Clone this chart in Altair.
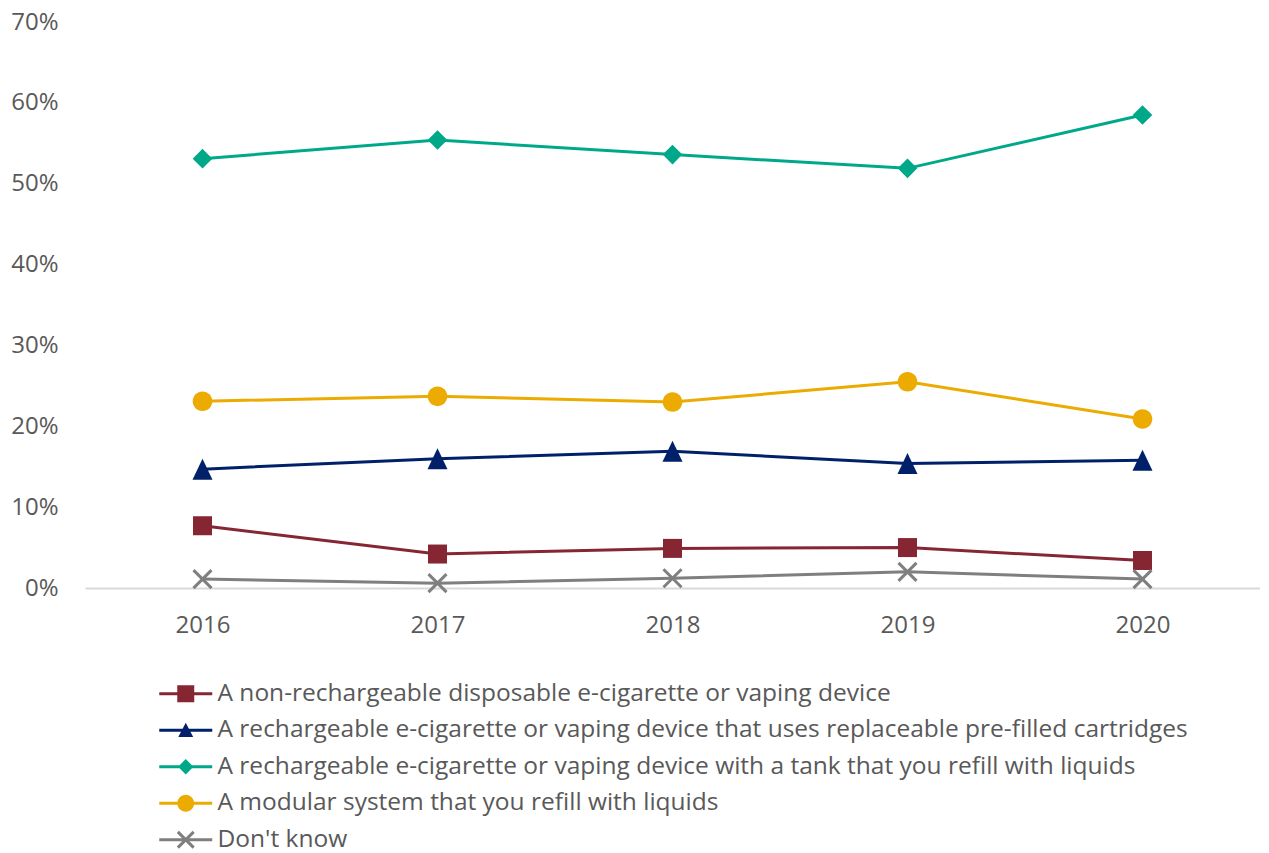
import altair as alt
import pandas as pd

years = ["2016", "2017", "2018", "2019", "2020"]
series = [
    "A non-rechargeable disposable e-cigarette or vaping device",
    "A rechargeable e-cigarette or vaping device that uses replaceable pre-filled cartridges",
    "A rechargeable e-cigarette or vaping device with a tank that you refill with liquids",
    "A modular system that you refill with liquids",
    "Don't know",
]
disposable = [0.077, 0.042, 0.049, 0.050, 0.034]
cartridges = [0.147, 0.160, 0.169, 0.154, 0.158]
tank = [0.531, 0.554, 0.536, 0.519, 0.585]
modular = [0.231, 0.237, 0.230, 0.255, 0.209]
dont_know = [0.011, 0.006, 0.012, 0.020, 0.011]
colors = ["#862633", "#002169", "#00A88A", "#EBAB00", "#7F7F7F"]

all_values = [disposable, cartridges, tank, modular, dont_know]
rows = []
for s, vals in zip(series, all_values):
    for y, v in zip(years, vals):
        rows.append({"year": y, "value": v, "series": s, "series_leg": s})
df = pd.DataFrame(rows)

# chart marker shapes (scaled by sqrt(size)/2)
sq = "M-0.95,-0.95H0.95V0.95H-0.95Z"
tri = "M0,-1.05L1,1.05L-1,1.05Z"
dia = "M0,-0.98L0.98,0L0,0.98L-0.98,0Z"
circ = "M-0.98,0A0.98,0.98 0 1 1 0.98,0A0.98,0.98 0 1 1 -0.98,0Z"
xx = ("M-0.794,-1.006L1.006,0.794L0.794,1.006L-1.006,-0.794Z"
      "M1.006,-0.794L-0.794,1.006L-1.006,0.794L0.794,-1.006Z")
chart_shapes = [sq, tri, dia, circ, xx]

# legend shapes: line + marker (scale 12 px per unit)
ln = "M-2.208,-0.125H2.208V0.125H-2.208Z"
leg_shapes = [
    ln + "M-0.708,-0.708H0.708V0.708H-0.708Z",
    ln + "M0,-0.62L0.62,0.56L-0.62,0.56Z",
    ln + "M0,-0.64L0.64,0L0,0.64L-0.64,0Z",
    ln + "M-0.7,0A0.7,0.7 0 1 1 0.7,0A0.7,0.7 0 1 1 -0.7,0Z",
    ln + "M-0.572,-0.748L0.748,0.572L0.572,0.748L-0.748,-0.572Z"
         "M0.748,-0.572L-0.572,0.748L-0.748,0.572L0.572,-0.748Z",
]

FONT = "Open Sans"
TXT = "#595959"

x_enc = alt.X(
    "year:O",
    sort=years,
    scale=alt.Scale(type="point", padding=0.5),
    axis=alt.Axis(
        title=None, labelAngle=0, domain=True, domainColor="#D9D9D9",
        domainWidth=2, ticks=False, labelFontSize=24, labelColor=TXT,
        labelFont=FONT, labelPadding=25,
    ),
)
y_enc = alt.Y(
    "value:Q",
    scale=alt.Scale(domain=[0, 0.7], nice=False),
    axis=alt.Axis(
        title=None, format=".0%", values=[0, 0.1, 0.2, 0.3, 0.4, 0.5, 0.6, 0.7],
        grid=False, domain=False, ticks=False, labelFontSize=24,
        labelColor=TXT, labelFont=FONT, labelPadding=27,
    ),
)
color_scale = alt.Scale(domain=series, range=colors)

base = alt.Chart(df)

lines = base.mark_line(strokeWidth=3).encode(
    x=x_enc, y=y_enc,
    color=alt.Color("series:N", scale=color_scale, legend=None),
    detail="series:N",
)

points = base.mark_point(filled=True, opacity=1, size=400, strokeWidth=0).encode(
    x=x_enc, y=y_enc,
    color=alt.Color("series:N", scale=color_scale, legend=None),
    shape=alt.Shape("series:N", scale=alt.Scale(domain=series, range=chart_shapes), legend=None),
)

leg_props = dict(
    title=None, orient="none", legendX=88.5, legendY=659.5,
    direction="vertical", symbolSize=576, symbolStrokeWidth=0,
    symbolOpacity=1, labelFontSize=24.5, labelFont=FONT, labelColor=TXT,
    labelOffset=19.5, rowPadding=11.5, labelLimit=1200, padding=0,
)

legend_layer = base.mark_point(filled=True, opacity=0, size=100, strokeWidth=0).encode(
    x=x_enc, y=y_enc,
    color=alt.Color(
        "series_leg:N", scale=alt.Scale(domain=series, range=colors),
        legend=alt.Legend(**leg_props),
    ),
    shape=alt.Shape(
        "series_leg:N", scale=alt.Scale(domain=series, range=leg_shapes),
        legend=alt.Legend(**leg_props),
    ),
)

chart = (
    alt.layer(lines, points, legend_layer)
    .resolve_scale(color="independent", shape="independent")
    .properties(
        width=1175, height=566,
        padding={"left": 77, "top": 14, "right": 0, "bottom": 265},
        autosize=alt.AutoSizeParams(type="none"),
        background="white",
    )
    .configure_view(stroke=None)
)

chart.save("out.html", embed_options={"renderer": "svg", "actions": False})
